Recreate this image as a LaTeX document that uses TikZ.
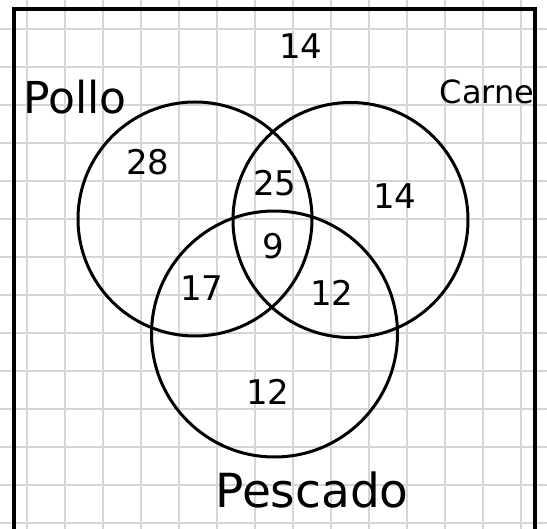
\documentclass[tikz,border=0pt]{standalone}
\usepackage{fontspec}
\setsansfont{DejaVu Sans}
\begin{document}
\begin{tikzpicture}[x=1pt,y=-1pt,
  gridline/.style={draw=black!16,line width=1.3pt},
  frame/.style={draw=black,line width=3.4pt},
  setcircle/.style={draw=black,line width=3pt},
  num/.style={font=\sffamily\fontsize{34}{34}\selectfont, inner sep=0pt},
  lbl/.style={font=\sffamily\fontsize{40}{40}\selectfont, inner sep=0pt}]
\useasboundingbox (0,0) rectangle (547,529);
\fill[white] (0,0) rectangle (547,529);
% grid
\foreach \k in {0,...,13} {
  \draw[gridline] (27+38*\k,0) -- (27+38*\k,529);
  \draw[gridline] (0,29+38*\k) -- (547,29+38*\k);
}
% frame
\draw[frame] (14,540) -- (14,9) -- (535,9) -- (535,540);
% circles
\node[setcircle,circle,minimum size=234pt,inner sep=0pt] (pollo) at (195,219) {};
\node[setcircle,circle,minimum size=235pt,inner sep=0pt] (carne) at (350.5,220) {};
\node[setcircle,circle,minimum size=246pt,inner sep=0pt] (pescado) at (274.5,334) {};
% labels
\node[lbl,font=\sffamily\fontsize{44}{44}\selectfont] (lpollo) at (75,97) {Pollo};
\node[lbl,font=\sffamily\fontsize{32}{32}\selectfont] (lcarne) at (487,92) {Carne};
\node[lbl,font=\sffamily\fontsize{47}{47}\selectfont] (lpescado) at (312,490) {Pescado};
% numbers
\node[num] (nout) at (301,46) {14};
\node[num] (n28) at (148,162) {28};
\node[num] (n25) at (275,183) {25};
\node[num] (n14) at (395,196) {14};
\node[num] (n9) at (273,246) {9};
\node[num] (n17) at (202,288) {17};
\node[num] (n12a) at (332,293) {12};
\node[num] (n12b) at (268,392) {12};
\end{tikzpicture}
\end{document}
